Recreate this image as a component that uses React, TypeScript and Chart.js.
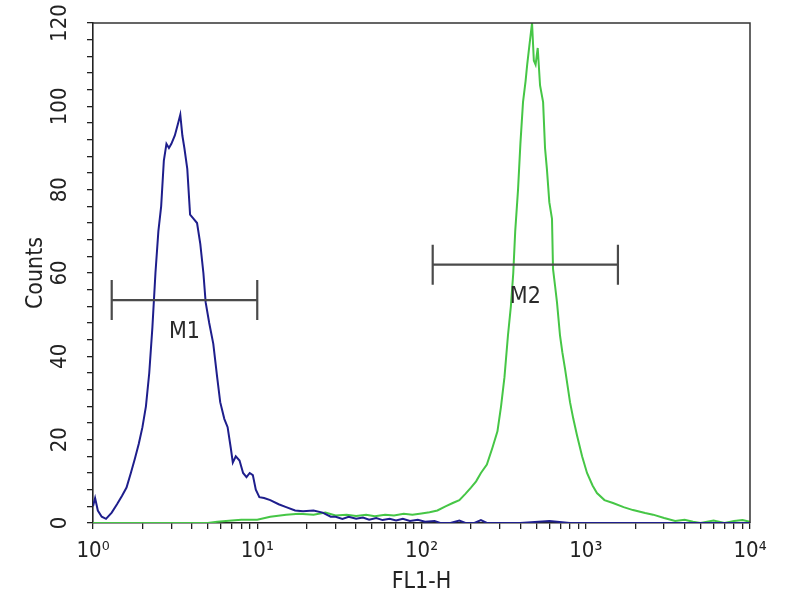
import React, { useEffect, useRef } from 'react';
import { Chart, registerables } from 'chart.js';

Chart.register(...registerables);

// Blue histogram (control)
const blueX = [1.0, 1.03, 1.07, 1.13, 1.2, 1.3, 1.4, 1.5, 1.6, 1.7, 1.8, 1.9, 2.0, 2.1, 2.2, 2.3, 2.4, 2.5, 2.6, 2.7, 2.8, 2.9, 3.0, 3.15, 3.3, 3.4, 3.5, 3.6, 3.75, 3.9, 4.1, 4.3, 4.5, 4.7, 4.85, 5.1, 5.4, 5.7, 5.95, 6.3, 6.6, 6.9, 7.1, 7.4, 7.8, 8.2, 8.6, 9.0, 9.4, 9.8, 10.3, 11, 12, 13.5, 15, 17, 19, 22, 25, 28, 30, 33, 36, 40, 44, 48, 53, 58, 64, 70, 77, 85, 95, 105, 120, 130, 150, 170, 185, 210, 230, 250, 300, 400, 600, 800, 1200, 2000, 4000, 10000];
const blueY = [4, 6, 3, 1.5, 1, 2.5, 4.5, 6.5, 8.5, 12, 15.5, 19, 23, 28, 36, 47, 60, 70, 76, 87, 91, 90, 91, 93, 96, 98, 93, 90, 85, 74, 73, 72, 67, 60, 53, 48, 43, 35, 29, 25, 23, 18, 14.5, 16, 15, 12, 11, 12, 11.5, 8, 6.2, 6, 5.5, 4.5, 3.8, 3, 2.8, 3, 2.5, 1.5, 1.5, 1, 1.5, 1, 1.3, 0.8, 1.2, 0.7, 1, 0.6, 1, 0.5, 0.8, 0.3, 0.5, 0, 0, 0.6, 0, 0, 0.7, 0, 0, 0, 0.5, 0, 0, 0, 0, 0];

// Green histogram (stained)
const greenX = [1, 5, 5.7, 7, 8, 10, 12, 15, 18, 22, 26, 30, 35, 40, 46, 52, 60, 68, 78, 88, 100, 112, 125, 140, 155, 170, 185, 200, 215, 230, 250, 270, 290, 305, 320, 336, 350, 362, 372, 387, 400, 415, 430, 440, 455, 471, 483, 495, 510, 527, 550, 565, 580, 600, 623, 632, 650, 668, 697, 720, 748, 802, 840, 885, 950, 1018, 1100, 1170, 1300, 1465, 1700, 1940, 2300, 2570, 3000, 3500, 4000, 4500, 5000, 6000, 7000, 8000, 9000, 10000];
const greenY = [0, 0, 0.3, 0.6, 0.8, 0.8, 1.5, 2, 2.2, 2, 2.5, 1.8, 2, 1.7, 2, 1.6, 2, 1.8, 2.2, 2, 2.3, 2.6, 3, 4, 4.8, 5.5, 7, 8.5, 10, 12, 14, 18, 22, 28, 35, 45, 52, 60, 70, 80, 91, 101, 106, 110, 115, 120, 111, 110, 114, 105, 101, 90, 85, 77, 73, 61, 57, 53, 45, 41, 37, 29, 25, 21, 16, 12, 9, 7.2, 5.5, 4.8, 3.8, 3.1, 2.4, 2, 1.2, 0.5, 0.8, 0.3, 0, 0.6, 0, 0.5, 0.7, 0.3];

// Axis ticks
const xMajorValues = [1, 10, 100, 1000, 10000];
const xMajorLabels = ['10\u2070', '10\u00b9', '10\u00b2', '10\u00b3', '10\u2074'];
const yMax = 120;
const yMinorStep = 4;
const yLabelStep = 20;

// Gate markers
const markerNames = ['M1', 'M2'];
const markerStart = [1.3, 117];
const markerEnd = [10, 1570];
const markerLevel = [53.5, 62];

const FONT = '"Liberation Sans Narrow", "Arial Narrow", "DejaVu Sans Condensed", "Liberation Sans", sans-serif';

const frameAndMarkers = {
  id: 'frameAndMarkers',
  afterDatasetsDraw(chart: any) {
    const { ctx, chartArea, scales } = chart;
    const xs = scales.x;
    const ys = scales.y;
    ctx.save();
    ctx.strokeStyle = '#333';
    ctx.lineWidth = 1.5;
    ctx.beginPath();
    ctx.moveTo(chartArea.left, chartArea.top);
    ctx.lineTo(chartArea.right, chartArea.top);
    ctx.lineTo(chartArea.right, chartArea.bottom);
    ctx.stroke();

    markerNames.forEach((name, i) => {
      const x0 = xs.getPixelForValue(markerStart[i]);
      const x1 = xs.getPixelForValue(markerEnd[i]);
      const yy = ys.getPixelForValue(markerLevel[i]);
      const cap = 20;
      ctx.strokeStyle = '#4a4a4a';
      ctx.lineWidth = 2.2;
      ctx.beginPath();
      ctx.moveTo(x0, yy);
      ctx.lineTo(x1, yy);
      ctx.moveTo(x0, yy - cap);
      ctx.lineTo(x0, yy + cap);
      ctx.moveTo(x1, yy - cap);
      ctx.lineTo(x1, yy + cap);
      ctx.stroke();
      ctx.fillStyle = '#2a2a2a';
      ctx.font = '23px ' + FONT;
      ctx.textAlign = 'center';
      ctx.textBaseline = 'middle';
      ctx.fillText(name, (x0 + x1) / 2, yy + 32);
    });
    ctx.restore();
  },
};

export default function App() {
  const ref = useRef<HTMLCanvasElement | null>(null);

  useEffect(() => {
    if (!ref.current) return;
    const chart = new Chart(ref.current, {
      type: 'line',
      data: {
        datasets: [
          {
            label: 'Control',
            data: blueX.map((x, i) => ({ x, y: blueY[i] })),
            borderColor: '#1e1e8c',
            borderWidth: 2,
            pointRadius: 0,
            tension: 0,
            fill: false,
          },
          {
            label: 'Stained',
            data: greenX.map((x, i) => ({ x, y: greenY[i] })),
            borderColor: '#46c646',
            borderWidth: 2,
            pointRadius: 0,
            tension: 0,
            fill: false,
          },
        ],
      },
      options: {
        animation: false,
        responsive: false,
        devicePixelRatio: 1,
        layout: { padding: { left: 0, right: 50, top: 23, bottom: 0 } },
        plugins: {
          legend: { display: false },
          tooltip: { enabled: false },
        },
        scales: {
          x: {
            type: 'logarithmic',
            min: 1,
            max: 10000,
            afterBuildTicks: (s: any) => {
              const t: any[] = [];
              for (let d = 1; d < 10000; d *= 10) {
                for (let m = 1; m < 10; m++) t.push({ value: d * m });
              }
              t.push({ value: 10000 });
              s.ticks = t;
            },
            afterFit: (s: any) => {
              s.height = 77;
              s.paddingLeft = 0;
              s.paddingRight = 0;
            },
            ticks: {
              autoSkip: false,
              maxRotation: 0,
              minRotation: 0,
              padding: 9,
              color: '#222',
              font: { family: FONT, size: 22 },
              callback: (v: any) => {
                const idx = xMajorValues.indexOf(Number(v));
                return idx >= 0 ? xMajorLabels[idx] : '';
              },
            },
            grid: {
              drawOnChartArea: false,
              drawTicks: true,
              tickLength: 6,
              color: '#222',
              lineWidth: 1.3,
            },
            border: { display: true, color: '#222', width: 1.6 },
            title: {
              display: true,
              text: 'FL1-H',
              color: '#222',
              font: { family: FONT, size: 23 },
              padding: { top: 0, bottom: 4 },
            },
          },
          y: {
            type: 'linear',
            min: 0,
            max: yMax,
            afterBuildTicks: (s: any) => {
              const t: any[] = [];
              for (let v = 0; v <= yMax; v += yMinorStep) t.push({ value: v });
              s.ticks = t;
            },
            afterFit: (s: any) => {
              s.width = 93;
              s.paddingTop = 0;
              s.paddingBottom = 0;
            },
            ticks: {
              autoSkip: false,
              minRotation: 90,
              maxRotation: 90,
              crossAlign: 'center',
              padding: 8,
              color: '#222',
              font: { family: FONT, size: 22 },
              callback: (v: any) => (Number(v) % yLabelStep === 0 ? String(v) : ''),
            },
            grid: {
              drawOnChartArea: false,
              drawTicks: true,
              tickLength: 6,
              color: '#222',
              lineWidth: 1.3,
            },
            border: { display: true, color: '#222', width: 1.6 },
            title: {
              display: true,
              text: 'Counts',
              color: '#222',
              font: { family: FONT, size: 23 },
              padding: { top: 22, bottom: 0 },
            },
          },
        },
      },
      plugins: [frameAndMarkers],
    });
    return () => chart.destroy();
  }, []);

  return (
    <div style={{ position: 'fixed', left: 0, top: 0, width: 800, height: 600, background: '#fff' }}>
      <canvas ref={ref} width={800} height={600} style={{ display: 'block', width: 800, height: 600 }} />
    </div>
  );
}
